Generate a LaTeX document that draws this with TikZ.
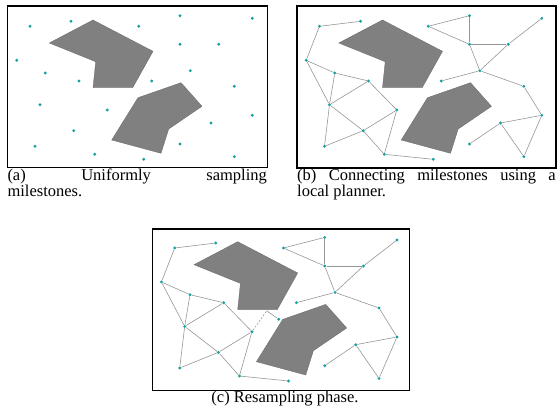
\documentclass[tikz,border=0pt]{standalone}
\usepackage{fontspec}
\setmainfont{Liberation Serif}
\definecolor{dotc}{RGB}{24,160,160}
\definecolor{edgec}{RGB}{150,150,150}
\definecolor{obst}{RGB}{128,128,128}
\tikzset{
  dot/.style={circle, fill=dotc, inner sep=0pt, minimum size=3.2pt},
  edge/.style={draw=edgec, line width=0.6pt},
  frame/.style={draw=black, line width=1.4pt},
  obstacle/.style={fill=obst, draw=obst!80!black, line width=0.3pt},
  captext/.style={inner sep=0pt, font=\fontsize{16.5}{16}\selectfont},
}
\newcommand\milestones[1]{%
  \foreach \n/\x/\y in {1/30/26.3, 2/71/21.3, 3/138.7/26.3, 4/180/15.7, 5/252.3/18.3,
     6/180/44.3, 7/218.7/44.3, 8/16.7/60.3, 9/45.3/73, 10/79/81, 11/151.7/81,
     12/190.3/70.7, 13/234.3/86.3, 14/40/104.7, 15/107.3/110, 16/252.3/115.3,
     17/211/123, 18/73.7/130.7, 19/35/146.3, 20/180/144, 21/94.7/154.3,
     22/143.7/159.3, 23/234.3/156.7}
    {\node[dot] (#1\n) at (\x,\y) {};}%
}
\newcommand\roadmap[1]{%
  \foreach \u/\v in {1/2,1/8,3/4,3/6,4/6,6/7,5/7,6/12,7/12,11/12,12/13,13/16,16/17,
     17/20,17/23,16/23,8/9,8/14,9/10,9/14,10/14,10/15,14/18,14/19,19/18,18/15,
     15/21,18/21,21/22}
    {\draw[edge] (#1\u) -- (#1\v);}%
}
\newcommand\obstacles{%
  \path[obstacle] (93,20) -- (153,51.3) -- (132.7,87.7) -- (93,87.7) -- (95.7,61.7) -- (49.3,43) -- cycle;
  \path[obstacle] (181,82.7) -- (202,106.3) -- (168.7,129) -- (161,153.3) -- (111.7,140) -- (138,97.7) -- cycle;
}
\begin{document}
\begin{tikzpicture}[x=1pt,y=-1pt]
\useasboundingbox (0,0) rectangle (557,411);
% panel (a)
\begin{scope}
  \obstacles
  \milestones{a}
  \draw[frame] (7.3,6) rectangle (267.7,167.7);
\end{scope}
% panel (b)
\begin{scope}[shift={(289.5,0)}]
  \obstacles
  \milestones{b}
  \roadmap{b}
  \draw[frame] (7.5,6) rectangle (266.5,168);
\end{scope}
% panel (c)
\begin{scope}[shift={(144.7,221.7)}]
  \obstacles
  \milestones{c}
  \node[dot] (cQ) at (134,97.6) {};
  \coordinate (cK) at (122,89);
  \roadmap{c}
  \draw[edge, dash pattern=on 2pt off 1.5pt] (c15) -- (cK);
  \draw[edge] (cK) -- (cQ);
  \draw[frame] (8,7.3) rectangle (265,169);
\end{scope}
% captions
\node[captext, anchor=base west] (capa1) at (7.3,181) {\makebox[259.4pt][s]{(a) Uniformly sampling}};
\node[captext, anchor=base west] (capa2) at (7.3,196.7) {milestones.};
\node[captext, anchor=base west] (capb1) at (297,181) {\makebox[258.5pt][s]{(b) Connecting milestones using a}};
\node[captext, anchor=base west] (capb2) at (297,197) {local planner.};
\node[captext, anchor=base] (capc) at (285,402.7) {(c) Resampling phase.};
\end{tikzpicture}
\end{document}
